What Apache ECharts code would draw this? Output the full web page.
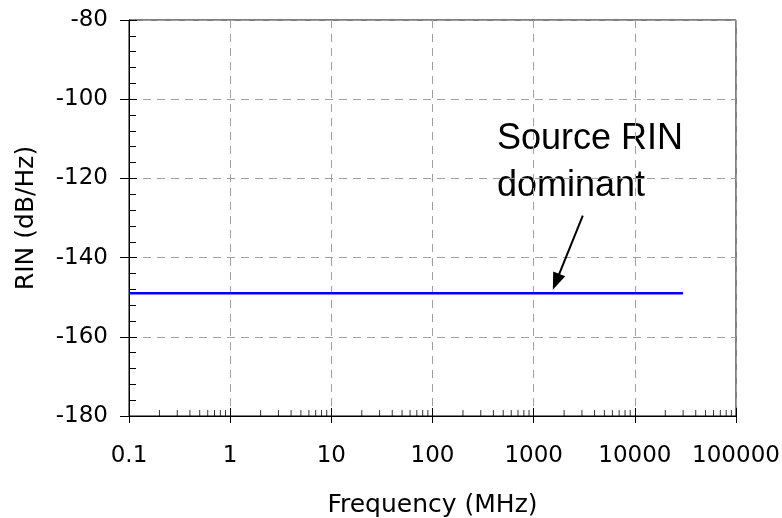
<!DOCTYPE html>
<html>
<head>
<meta charset="utf-8">
<script src="https://cdn.jsdelivr.net/npm/echarts@6/dist/echarts.min.js"></script>
<style>
  html, body { margin: 0; padding: 0; background: #fff; }
  #rin-chart { width: 782px; height: 518px; }
</style>
</head>
<body>
<div id="rin-chart"></div>
<script>
(function() {

    // data
    const freqMHz = [0.1, 1, 10, 100, 1000, 10000, 30000];
    const rinDbHz = [-149, -149, -149, -149, -149, -149, -149];

    // annotation arrow (data coords), end = centre of the arrow head
    const arrowFrom = [3060, -129.4];
    const arrowTo = [1663, -146.1];

    // log minor ticks 2..9 in each decade
    const decades = [0.1, 1, 10, 100, 1000, 10000];
    let minorTicksX = [];
    decades.forEach((d) => {
        for (let m = 2; m <= 9; m++) minorTicksX.push([d * m, -180]);
    });

    const tickFont = 'DejaVu Sans';
    const gridDash = { color: '#a0a0a0', width: 1, type: [8, 6] };

    const chart = echarts.init(document.getElementById('rin-chart'));

    let option = {
        animation: false,
        grid: {
            show: true,
            left: 129,
            top: 20,
            width: 607,
            height: 396,
            borderColor: '#000',
            borderWidth: 1,
            containLabel: false,
            outerBoundsMode: 'none'
        },
        xAxis: [{
            type: 'log',
            logBase: 10,
            min: 0.1,
            max: 100000,
            name: 'Frequency (MHz)',
            nameLocation: 'middle',
            nameGap: 77,
            nameTextStyle: { fontFamily: tickFont, fontSize: 25, color: '#000' },
            axisLine: { lineStyle: { color: '#000', width: 1 } },
            axisTick: { show: true, inside: false, length: 7, lineStyle: { color: '#000' } },
            axisLabel: {
                fontFamily: tickFont, fontSize: 23, color: '#000', margin: 29,
                formatter: (v) => String(v)
            },
            splitLine: { show: true, lineStyle: gridDash }
        }, {
            type: 'log',
            logBase: 10,
            min: 0.1,
            max: 100000,
            position: 'bottom',
            axisLine: { show: false },
            axisTick: { show: true, inside: true, length: 8, lineStyle: { color: '#000' } },
            axisLabel: { show: false },
            splitLine: { show: false }
        }],
        yAxis: [{
            type: 'value',
            min: -180,
            max: -80,
            interval: 20,
            position: 'left',
            name: 'RIN (dB/Hz)',
            nameLocation: 'middle',
            nameGap: 90,
            nameTextStyle: { fontFamily: tickFont, fontSize: 25, color: '#000' },
            axisLine: { show: true, lineStyle: { color: '#000', width: 1 } },
            axisTick: { show: true, inside: true, length: 8, lineStyle: { color: '#000' } },
            minorTick: { show: true, splitNumber: 5, length: 7, lineStyle: { color: '#000' } },
            axisLabel: {
                fontFamily: tickFont, fontSize: 23, color: '#000', margin: 21,
                padding: [6, 0, 0, 0]
            },
            splitLine: { show: true, lineStyle: gridDash }
        }, {
            type: 'value',
            min: -180,
            max: -80,
            interval: 20,
            position: 'left',
            axisLine: { show: false },
            axisTick: { show: true, inside: false, length: 9, lineStyle: { color: '#000' } },
            axisLabel: { show: false },
            splitLine: { show: false }
        }],
        series: [{
            name: 'RIN',
            type: 'line',
            data: freqMHz.map((f, i) => [f, rinDbHz[i]]),
            showSymbol: false,
            lineStyle: { color: '#0000ff', width: 2.5 },
            z: 3,
            markLine: {
                silent: true,
                animation: false,
                symbol: ['none', 'triangle'],
                symbolSize: [13, 17],
                label: { show: false },
                lineStyle: { color: '#000', width: 2, type: 'solid' },
                data: [[{ coord: arrowFrom }, { coord: arrowTo }]]
            }
        }, {
            name: 'minor',
            type: 'scatter',
            data: minorTicksX,
            symbol: 'rect',
            symbolSize: [1, 6],
            symbolOffset: [0, -3],
            itemStyle: { color: '#000' },
            silent: true,
            clip: false,
            z: 4
        }],
        graphic: [{
            type: 'text',
            left: 497,
            top: 116,
            style: {
                text: 'Source RIN\ndominant',
                font: '36px "Liberation Sans", Arial, sans-serif',
                lineHeight: 47,
                fill: '#000'
            }
        }]
    };

    chart.setOption(option);
})();
</script>
</body>
</html>
